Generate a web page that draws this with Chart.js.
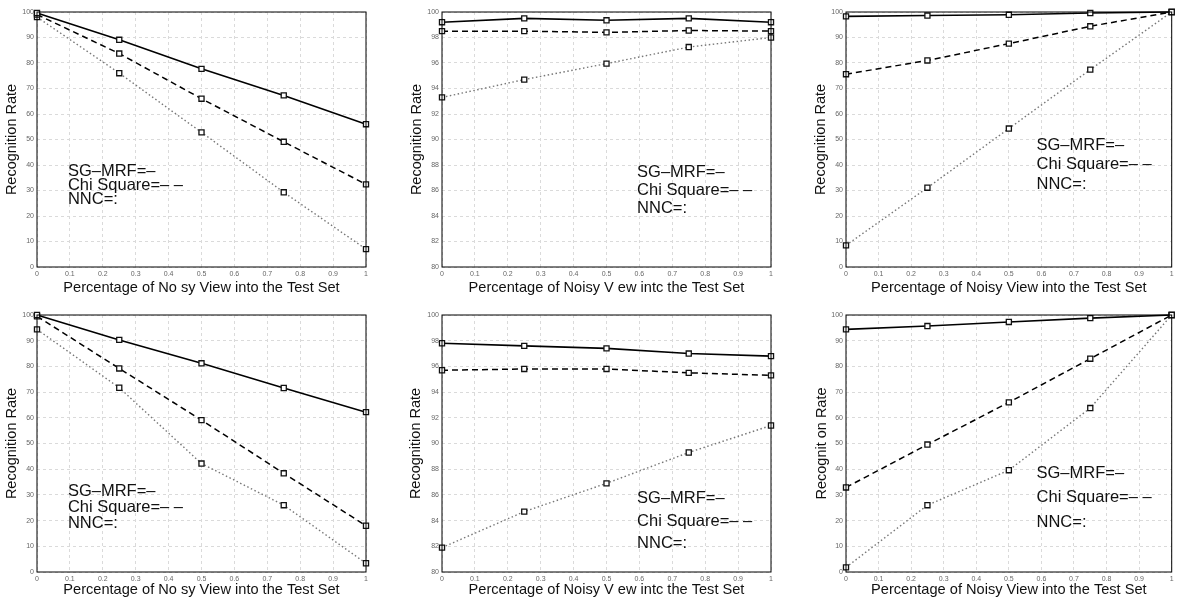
<!DOCTYPE html>
<html>
<head>
<meta charset="utf-8">
<script src="https://cdn.jsdelivr.net/npm/chart.js@4.4.0/dist/chart.umd.min.js"></script>
<style>
  body { margin: 0; background: #fff; }
  canvas { position: absolute; }
</style>
</head>
<body>
<canvas id="chartA" width="390" height="302" style="left:0px;top:0px"></canvas>
<canvas id="chartB" width="390" height="302" style="left:390px;top:0px"></canvas>
<canvas id="chartC" width="397" height="302" style="left:780px;top:0px"></canvas>
<canvas id="chartD" width="390" height="302" style="left:0px;top:302px"></canvas>
<canvas id="chartE" width="390" height="302" style="left:390px;top:302px"></canvas>
<canvas id="chartF" width="397" height="302" style="left:780px;top:302px"></canvas>
<script>
// Fraction of noisy views in the test set (same for every panel)
const noiseLevels = [0, 0.25, 0.5, 0.75, 1];

// Top row
const sgA = [99.6, 89.1, 77.7, 67.3, 56.0];
const chiA = [99.0, 83.7, 66.0, 49.1, 32.4];
const nncA = [98.0, 76.0, 52.8, 29.3, 7.0];

const sgB = [99.2, 99.5, 99.35, 99.5, 99.2];
const chiB = [98.5, 98.5, 98.4, 98.55, 98.5];
const nncB = [93.3, 94.7, 95.95, 97.25, 98.0];

const sgC = [98.3, 98.6, 98.9, 99.6, 100];
const chiC = [75.6, 81.0, 87.6, 94.4, 100];
const nncC = [8.5, 31.1, 54.3, 77.4, 100];

// Bottom row
const sgD = [100, 90.3, 81.2, 71.6, 62.2];
const chiD = [99.5, 79.2, 59.1, 38.4, 18.0];
const nncD = [94.4, 71.7, 42.2, 26.0, 3.4];

const sgE = [97.8, 97.6, 97.4, 97.0, 96.8];
const chiE = [95.7, 95.8, 95.8, 95.5, 95.3];
const nncE = [81.9, 84.7, 86.9, 89.3, 91.4];

const sgF = [94.4, 95.7, 97.3, 98.8, 100];
const chiF = [32.9, 49.6, 66.0, 83.0, 100];
const nncF = [1.8, 26.0, 39.6, 63.8, 100];

// text written inside each plot
const noteLines = ['SG\u2013MRF=\u2013', 'Chi Square=\u2013 \u2013', 'NNC=:'];

const FONT = '"Liberation Sans", Arial, Helvetica, sans-serif';

// draws the box round the plot and the in-plot key text
const framePlugin = {
    id: 'frameNotes',
    afterDraw(chart, args, opts) {
        const ctx = chart.ctx;
        const area = chart.chartArea;
        ctx.save();
        ctx.strokeStyle = '#000';
        ctx.lineWidth = 1;
        ctx.strokeRect(area.left, area.top, area.right - area.left, area.bottom - area.top);
        const x = chart.scales.x.getPixelForValue(opts.at[0]);
        const y = chart.scales.y.getPixelForValue(opts.at[1]);
        ctx.font = '16.5px ' + FONT;
        ctx.fillStyle = '#111';
        ctx.textBaseline = 'middle';
        noteLines.forEach((t, i) => ctx.fillText(t, x, y + i * opts.gap));
        ctx.restore();
    }
};

function toPoints(values) {
    return noiseLevels.map((x, i) => ({ x: x, y: values[i] }));
}

function lineSet(label, values, color, dash, width) {
    return {
        label: label,
        data: toPoints(values),
        borderColor: color,
        borderWidth: width,
        borderDash: dash,
        pointStyle: 'rect',
        pointRadius: 3.6,
        pointBackgroundColor: '#fff',
        pointBorderColor: '#111',
        pointBorderWidth: 1.3,
        fill: false,
        tension: 0,
        clip: false
    };
}

function createPanel(elementId, p) {
    const ctx = document.getElementById(elementId).getContext('2d');
    return new Chart(ctx, {
        type: 'line',
        data: {
            datasets: [
                lineSet('SG-MRF', p.sg, '#000', [], 1.6),
                lineSet('Chi Square', p.chi, '#000', [6, 4], 1.5),
                lineSet('NNC', p.nnc, '#777', [1.5, 2.5], 1.4)
            ]
        },
        plugins: [framePlugin],
        options: {
            responsive: false,
            animation: false,
            layout: { padding: { left: 0, top: p.top, right: p.right, bottom: 0 } },
            plugins: {
                legend: { display: false },
                tooltip: { enabled: false },
                frameNotes: { at: p.noteAt, gap: p.noteGap }
            },
            scales: {
                x: {
                    type: 'linear',
                    min: 0,
                    max: 1,
                    ticks: {
                        stepSize: 0.1, padding: 3, font: { size: 7, family: FONT }, color: '#666', maxRotation: 0,
                        callback: (v) => String(Number(v.toFixed(1)))
                    },
                    grid: { color: '#dadada', drawTicks: false },
                    border: { display: false, dash: [3, 3] },
                    title: {
                        display: true,
                        text: p.xTitle,
                        color: '#111',
                        font: { size: 14.6, family: FONT, lineHeight: 1 },
                        padding: { top: 0, bottom: 7 }
                    },
                    afterFit: (scale) => { scale.height = p.xHeight; }
                },
                y: {
                    min: p.yMin,
                    max: p.yMax,
                    ticks: { stepSize: p.yStep, padding: 3, font: { size: 7, family: FONT }, color: '#666' },
                    grid: { color: '#dadada', drawTicks: false },
                    border: { display: false, dash: [3, 3] },
                    title: {
                        display: true,
                        text: p.yTitle,
                        color: '#111',
                        font: { size: 14.5, family: FONT, lineHeight: 1 },
                        padding: { top: p.yTitlePad, bottom: 0 }
                    },
                    afterFit: (scale) => { scale.width = p.left; }
                }
            }
        }
    });
}

const xTitleA = 'Percentage of No sy View into the Test Set';
const xTitleB = 'Percentage of Noisy V ew intc the Test Set';
const xTitleC = 'Percentage of Noisy View into the Test Set';

createPanel('chartA', { sg: sgA, chi: chiA, nnc: nncA, yMin: 0, yMax: 100, yStep: 10,
    xTitle: xTitleA, yTitle: 'Recognition Rate', left: 37, right: 24, top: 12, xHeight: 35,
    yTitlePad: 5, noteAt: [0.094, 37.6], noteGap: 14 });
createPanel('chartB', { sg: sgB, chi: chiB, nnc: nncB, yMin: 80, yMax: 100, yStep: 2,
    xTitle: xTitleB, yTitle: 'Recognition Rate', left: 52, right: 9, top: 12, xHeight: 35,
    yTitlePad: 20, noteAt: [0.593, 87.45], noteGap: 18 });
createPanel('chartC', { sg: sgC, chi: chiC, nnc: nncC, yMin: 0, yMax: 100, yStep: 10,
    xTitle: xTitleC, yTitle: 'Recognition Rate', left: 66, right: 3, top: 12, xHeight: 35,
    yTitlePad: 34, noteAt: [0.585, 47.8], noteGap: 19.5 });
createPanel('chartD', { sg: sgD, chi: chiD, nnc: nncD, yMin: 0, yMax: 100, yStep: 10,
    xTitle: xTitleA, yTitle: 'Recognition Rate', left: 37, right: 24, top: 13, xHeight: 32,
    yTitlePad: 5, noteAt: [0.094, 31.2], noteGap: 16 });
createPanel('chartE', { sg: sgE, chi: chiE, nnc: nncE, yMin: 80, yMax: 100, yStep: 2,
    xTitle: xTitleB, yTitle: 'Recognition Rate', left: 52, right: 9, top: 13, xHeight: 32,
    yTitlePad: 19, noteAt: [0.593, 85.7], noteGap: 22.5 });
createPanel('chartF', { sg: sgF, chi: chiF, nnc: nncF, yMin: 0, yMax: 100, yStep: 10,
    xTitle: xTitleC, yTitle: 'Recognit on Rate', left: 66, right: 3, top: 13, xHeight: 32,
    yTitlePad: 35, noteAt: [0.585, 38.5], noteGap: 24.5 });
</script>
</body>
</html>
